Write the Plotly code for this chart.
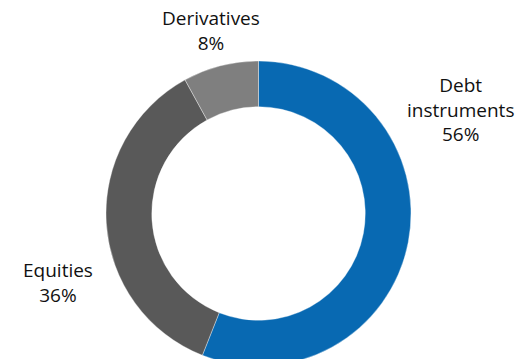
import plotly.graph_objects as go

# Portfolio breakdown by instrument type (% of total)
categories = ["Debt instruments", "Equities", "Derivatives"]
shares = [56, 36, 8]
colors = ["#0869b2", "#595959", "#7f7f7f"]

# Label placement (pixel centres of each text block) and label line breaks
label_text = ["Debt<br>instruments", "Equities", "Derivatives"]
label_xy = [(460, 110), (58, 282), (211, 30)]

W, H = 520, 373  # page is slightly taller than the view so the ring runs off the bottom edge
cx, cy, r = 258.5, 213.5, 152.5

fig = go.Figure(
    go.Pie(
        labels=categories,
        values=shares,
        hole=0.70,
        sort=False,
        direction="clockwise",
        rotation=0,
        marker=dict(colors=colors, line=dict(color="rgba(255,255,255,0.6)", width=0.6)),
        textinfo="none",
        hoverinfo="label+percent",
        showlegend=False,
        domain=dict(
            x=[(cx - r) / W, (cx + r) / W],
            y=[(H - cy - r) / H, (H - cy + r) / H],
        ),
    )
)

for name, val, (px, py) in zip(label_text, shares, label_xy):
    fig.add_annotation(
        text=f"{name}<br>{val}%",
        x=px / W,
        y=(H - py) / H,
        xref="paper",
        yref="paper",
        xanchor="center",
        yanchor="middle",
        showarrow=False,
        align="center",
        font=dict(family="Open Sans", size=19, color="#111111"),
    )

fig.update_layout(
    width=W,
    height=H,
    margin=dict(l=0, r=0, t=0, b=0),
    paper_bgcolor="white",
    plot_bgcolor="white",
)

fig.write_html(
    "out.html",
    post_script="document.documentElement.style.overflow='hidden';document.body.style.overflow='hidden';document.body.style.margin='0';",
)
